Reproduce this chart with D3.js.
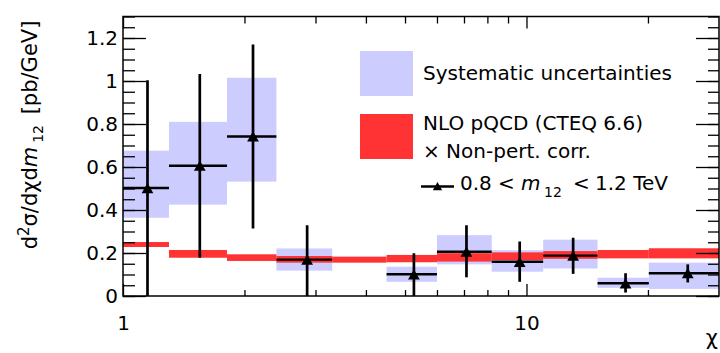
<!DOCTYPE html>
<html>
<head>
<meta charset="utf-8">
<script src="https://cdn.jsdelivr.net/npm/d3@7"></script>
<style>
  body { margin: 0; background: #fff; }
  text { font-family: "DejaVu Sans", sans-serif; fill: #000; }
</style>
</head>
<body>
<div id="chart"></div>
<script>
// chi bin edges (log axis)
var binEdges = [1, 1.3, 1.81, 2.4, 3.3, 4.5, 6.0, 8.2, 11.0, 15.0, 20.1, 30];

// NLO pQCD x non-pert. corr. band, one entry per bin
var theoryLo = [0.228, 0.178, 0.163, 0.155, 0.155, 0.157, 0.160, 0.167, 0.173, 0.175, 0.175];
var theoryHi = [0.251, 0.214, 0.194, 0.186, 0.183, 0.191, 0.199, 0.203, 0.209, 0.214, 0.222];

// measured points (bin 3.3-4.5 has no point)
var dataBin = [0, 1, 2, 3, 5, 6, 7, 8, 9, 10];
var chiCenter = [1.15, 1.55, 2.10, 2.86, 5.26, 7.10, 9.62, 13.05, 17.6, 25.1];
var xsec = [0.502, 0.606, 0.742, 0.169, 0.101, 0.206, 0.159, 0.188, 0.059, 0.106];
var statLo = [-0.05, 0.178, 0.314, -0.05, -0.05, 0.087, 0.066, 0.103, 0.016, 0.063];
var statHi = [1.003, 1.033, 1.170, 0.329, 0.199, 0.329, 0.253, 0.271, 0.106, 0.147];
var sysLo = [0.364, 0.425, 0.532, 0.118, 0.066, 0.147, 0.113, 0.128, 0.038, 0.033];
var sysHi = [0.676, 0.810, 1.015, 0.221, 0.136, 0.283, 0.213, 0.262, 0.085, 0.155];

var yMajor = [0, 0.2, 0.4, 0.6, 0.8, 1, 1.2];
var yMinor = d3.range(0, 1.3001, 0.05);
var xMajor = [1, 10];
var xMinor = [2, 3, 4, 5, 6, 7, 8, 9, 20];

var width = 720;
var height = 353;
var plot = { l: 123, r: 719, t: 16.5, b: 296 };

var blue = '#ccccff';
var red = '#ff3333';

var xScale = d3.scaleLog().domain([1, 30]).range([plot.l, plot.r]);
var yScale = d3.scaleLinear().domain([0, 1.3]).range([plot.b, plot.t]);

var svg = d3.select('#chart')
    .append('svg')
    .attr('width', width)
    .attr('height', height);

svg.append('clipPath')
    .attr('id', 'clip')
    .append('rect')
    .attr('x', plot.l)
    .attr('y', plot.t)
    .attr('width', plot.r - plot.l)
    .attr('height', plot.b - plot.t);

var theory = binEdges.slice(0, -1).map((lo, i) => ({ lo: lo, hi: binEdges[i + 1], yLo: theoryLo[i], yHi: theoryHi[i] }));
var points = dataBin.map((b, i) => ({
    lo: binEdges[b], hi: binEdges[b + 1], c: chiCenter[i], v: xsec[i],
    sLo: statLo[i], sHi: statHi[i], yLo: sysLo[i], yHi: sysHi[i]
}));

var g = svg.append('g').attr('clip-path', 'url(#clip)');

// systematic boxes
g.selectAll('.sys')
    .data(points)
    .enter()
    .append('rect')
    .attr('class', 'sys')
    .attr('x', d => xScale(d.lo))
    .attr('width', d => xScale(d.hi) - xScale(d.lo))
    .attr('y', d => yScale(d.yHi))
    .attr('height', d => yScale(d.yLo) - yScale(d.yHi))
    .attr('fill', blue);

// theory band
g.selectAll('.theory')
    .data(theory)
    .enter()
    .append('rect')
    .attr('class', 'theory')
    .attr('x', d => xScale(d.lo))
    .attr('width', d => xScale(d.hi) - xScale(d.lo))
    .attr('y', d => yScale(d.yHi))
    .attr('height', d => yScale(d.yLo) - yScale(d.yHi))
    .attr('fill', red);

// bin width lines
g.selectAll('.hbar')
    .data(points)
    .enter()
    .append('line')
    .attr('x1', d => xScale(d.lo))
    .attr('x2', d => xScale(d.hi))
    .attr('y1', d => yScale(d.v))
    .attr('y2', d => yScale(d.v))
    .attr('stroke', '#000')
    .attr('stroke-width', 2.4);

// stat error bars
g.selectAll('.vbar')
    .data(points)
    .enter()
    .append('line')
    .attr('x1', d => xScale(d.c))
    .attr('x2', d => xScale(d.c))
    .attr('y1', d => yScale(d.sLo))
    .attr('y2', d => yScale(d.sHi))
    .attr('stroke', '#000')
    .attr('stroke-width', 2.7);

// triangle markers, bounding box centred on the value
var tri = d3.symbol().type(d3.symbolTriangle).size(60);
g.selectAll('.marker')
    .data(points)
    .enter()
    .append('path')
    .attr('transform', d => `translate(${xScale(d.c)},${yScale(d.v) + 1.7})`)
    .attr('d', tri)
    .attr('fill', '#000');

// axes: ticks on all four sides
function drawAxis(axis, tx, ty) {
    var a = svg.append('g')
        .attr('transform', `translate(${tx},${ty})`)
        .call(axis);
    a.select('.domain').remove();
    a.selectAll('line').attr('stroke', '#000').attr('stroke-width', 1.3);
    a.selectAll('text').style('font-family', '"DejaVu Sans", sans-serif').style('font-size', '20px');
    return a;
}

drawAxis(d3.axisLeft(yScale).tickValues(yMajor).tickSize(-23).tickPadding(5)
    .tickFormat(d => d3.format('~g')(d)), plot.l, 0);
drawAxis(d3.axisLeft(yScale).tickValues(yMinor).tickSize(-12).tickFormat(''), plot.l, 0);
drawAxis(d3.axisRight(yScale).tickValues(yMajor).tickSize(-23).tickFormat(''), plot.r, 0);
drawAxis(d3.axisRight(yScale).tickValues(yMinor).tickSize(-11).tickFormat(''), plot.r, 0);

drawAxis(d3.axisBottom(xScale).tickValues(xMajor).tickSize(-12).tickPadding(20)
    .tickFormat(d3.format('d')), 0, plot.b);
drawAxis(d3.axisBottom(xScale).tickValues(xMinor).tickSize(-6).tickFormat(''), 0, plot.b);
drawAxis(d3.axisTop(xScale).tickValues(xMajor).tickSize(-12).tickFormat(''), 0, plot.t);
drawAxis(d3.axisTop(xScale).tickValues(xMinor).tickSize(-7).tickFormat(''), 0, plot.t);

// frame
svg.append('rect')
    .attr('x', plot.l)
    .attr('y', plot.t)
    .attr('width', plot.r - plot.l)
    .attr('height', plot.b - plot.t)
    .attr('fill', 'none')
    .attr('stroke', '#000')
    .attr('stroke-width', 1.5);

// axis titles
svg.append('text')
    .attr('x', plot.r - 1)
    .attr('y', 345)
    .attr('text-anchor', 'end')
    .style('font-size', '21px')
    .text('χ');

var yTitle = svg.append('text')
    .attr('transform', 'translate(37,135) rotate(-90)')
    .attr('text-anchor', 'middle')
    .style('font-size', '21px');
yTitle.append('tspan').text('d');
yTitle.append('tspan').attr('dy', -8).style('font-size', '15px').text('2');
yTitle.append('tspan').attr('dy', 8).text('σ/dχd');
yTitle.append('tspan').style('font-style', 'italic').text('m');
yTitle.append('tspan').attr('dx', 4).attr('dy', 6).style('font-size', '14px').text('12');
yTitle.append('tspan').attr('dx', 4).attr('dy', -6).text(' [pb/GeV]');

// legend
svg.append('rect')
    .attr('x', 360).attr('y', 51).attr('width', 53).attr('height', 45)
    .attr('fill', blue);
svg.append('rect')
    .attr('x', 360).attr('y', 114).attr('width', 53).attr('height', 45)
    .attr('fill', red);

svg.append('text').attr('x', 423).attr('y', 80).style('font-size', '20px')
    .text('Systematic uncertainties');
svg.append('text').attr('x', 423).attr('y', 130).style('font-size', '20px')
    .text('NLO pQCD (CTEQ 6.6)');
svg.append('text').attr('x', 423).attr('y', 158).style('font-size', '20px')
    .text('× Non-pert. corr.');

svg.append('line')
    .attr('x1', 421).attr('x2', 454).attr('y1', 186.5).attr('y2', 186.5)
    .attr('stroke', '#000').attr('stroke-width', 2.5);
svg.append('path')
    .attr('transform', 'translate(437.5,187.5)')
    .attr('d', d3.symbol().type(d3.symbolTriangle).size(38))
    .attr('fill', '#000');

var leg = svg.append('text').attr('y', 190).style('font-size', '20px');
leg.append('tspan').attr('x', 460).text('0.8');
leg.append('tspan').attr('x', 498).text('<');
leg.append('tspan').attr('x', 521).style('font-style', 'italic').text('m');
leg.append('tspan').attr('x', 544).attr('dy', 7).style('font-size', '14px').text('12');
leg.append('tspan').attr('x', 573).attr('dy', -7).text('<');
leg.append('tspan').attr('x', 595).text('1.2 TeV');
</script>
</body>
</html>
